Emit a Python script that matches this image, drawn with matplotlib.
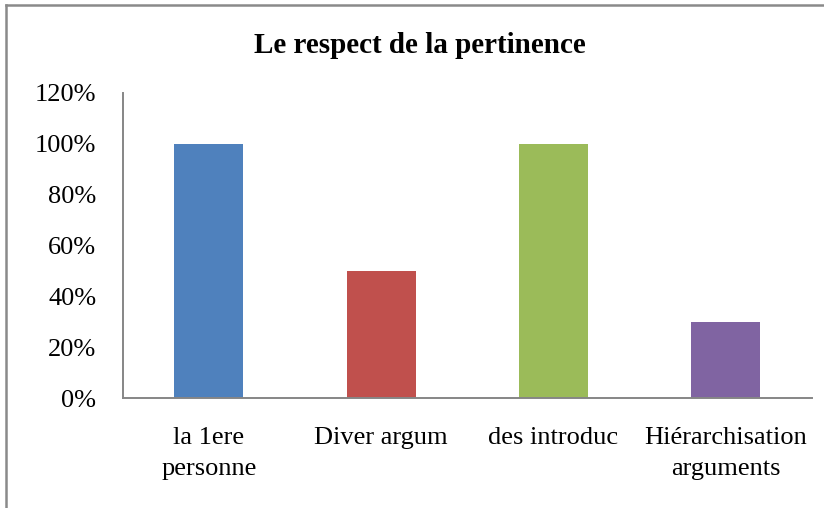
import matplotlib.pyplot as plt
from matplotlib.lines import Line2D
from matplotlib.ticker import PercentFormatter

categories = ["la 1ere\npersonne", "Diver argum", "des introduc", "Hiérarchisation\narguments"]
values = [100, 50, 100, 30]
colors = ["#4F81BD", "#C0504D", "#9BBB59", "#8064A2"]

plt.rcParams["font.family"] = ["Liberation Serif", "DejaVu Serif"]

fig = plt.figure(figsize=(8.24, 5.08), dpi=100)
ax = fig.add_axes([0.149, 0.2165, 0.836, 0.6005])

x = range(len(categories))
ax.bar(x, values, width=0.40, color=colors)
ax.set_xlim(-0.5, len(categories) - 0.5)
ax.set_ylim(0, 120)
ax.set_yticks(range(0, 121, 20))
ax.yaxis.set_major_formatter(PercentFormatter(decimals=0))
ax.set_xticks(list(x))
ax.set_xticklabels(categories, linespacing=1.5)
ax.tick_params(axis="y", length=0, pad=19, labelsize=19)
ax.tick_params(axis="x", length=0, pad=21, labelsize=19)

for side in ["top", "right"]:
    ax.spines[side].set_visible(False)
for side in ["left", "bottom"]:
    ax.spines[side].set_color("#868686")
    ax.spines[side].set_linewidth(1.4)

fig.text(0.51, 0.91, "Le respect de la pertinence", ha="center", va="center",
         fontsize=21, fontweight="bold")

# outer chart frame, cut off at right and bottom
fig.add_artist(Line2D([0.0068, 0.0068], [0.0, 0.99], transform=fig.transFigure,
                      color="#8a8a8a", lw=1.8))
fig.add_artist(Line2D([0.0068, 1.0], [0.99, 0.99], transform=fig.transFigure,
                      color="#8a8a8a", lw=1.8))

fig.savefig("out.png", dpi=100)
